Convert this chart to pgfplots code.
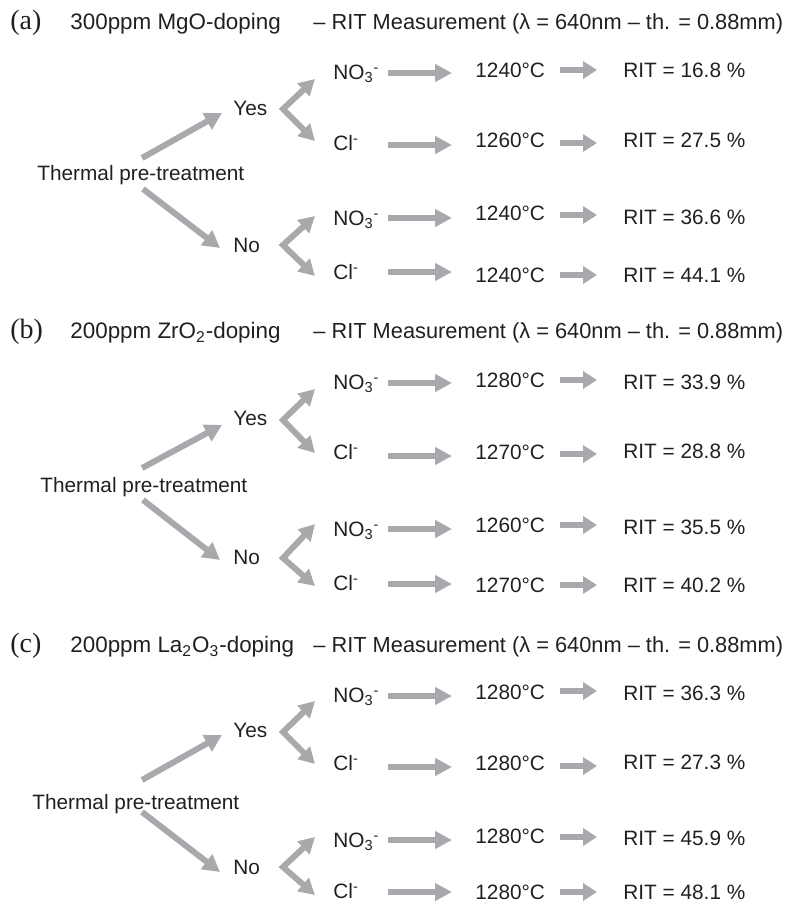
\documentclass[border=0pt]{standalone}
\usepackage{pgfplots}
\pgfplotsset{compat=1.18}
\usetikzlibrary{arrows.meta}
\usepackage{fontspec}
\setmainfont{Liberation Sans}
\newfontfamily\serifpanel{Liberation Serif}
\definecolor{tc}{HTML}{231F20}
\definecolor{ac}{HTML}{A7A9AC}
\newcommand{\NO}{NO\textsubscript{3}\textsuperscript{-}}
\newcommand{\Cl}{Cl\textsuperscript{-}}
\tikzset{
  txt/.style={anchor=base west, inner sep=0pt, text=tc, font=\fontsize{10.4}{12}\selectfont, yshift=-3.75pt},
  ttl/.style={anchor=base west, inner sep=0pt, text=tc, font=\fontsize{10.9}{13}\selectfont, yshift=-3.95pt},
  ttlb/.style={anchor=base west, inner sep=0pt, text=tc, font=\fontsize{11.2}{13}\selectfont, yshift=-3.95pt},
  pan/.style={anchor=base west, inner sep=0pt, text=tc, font=\serifpanel\fontsize{14}{16}\selectfont, yshift=-3.95pt},
  longa/.style={draw=ac, line width=3pt, -{Triangle[length=8.5pt,width=8.5pt]}},
  shorta/.style={draw=ac, line width=3pt, -{Triangle[length=7pt,width=8.5pt]}},
  diaga/.style={draw=ac, line width=3pt, -{Triangle[length=8.5pt,width=9pt]}},
  forka/.style={draw=ac, line width=3pt, line join=miter, {Triangle[length=8pt,width=8.5pt]}-{Triangle[length=8pt,width=8.5pt]}},
}
\begin{document}
\begin{tikzpicture}
\begin{axis}[scale only axis, width=398pt, height=452.5pt,
  xmin=0, xmax=796, ymin=0, ymax=905, y dir=reverse,
  hide axis, clip=false]
\path (rel axis cs:0,0) rectangle (rel axis cs:1,1);

% ---------------- panel (a) ----------------
\node[pan] at (axis cs:10,22) {(a)};
\node[ttlb] at (axis cs:70,22) {300ppm MgO-doping};
\node[ttl] at (axis cs:313,22) {– RIT Measurement (λ = 640nm – th. = 0.88mm)};
\node[txt] at (axis cs:37,173) {Thermal pre-treatment};
\node[txt] at (axis cs:233,108) {Yes};
\node[txt] at (axis cs:233,245) {No};
\node[txt] at (axis cs:333,72) {\NO};
\node[txt] at (axis cs:333,143) {\Cl};
\node[txt] at (axis cs:333,218) {\NO};
\node[txt] at (axis cs:333,272) {\Cl};
\node[txt] at (axis cs:475,70) {1240°C};
\node[txt] at (axis cs:475,140) {1260°C};
\node[txt] at (axis cs:475,213) {1240°C};
\node[txt] at (axis cs:475,275) {1240°C};
\node[txt] at (axis cs:623,70) {RIT = 16.8 \%};
\node[txt] at (axis cs:623,140) {RIT = 27.5 \%};
\node[txt] at (axis cs:623,217) {RIT = 36.6 \%};
\node[txt] at (axis cs:623,275) {RIT = 44.1 \%};
\addplot[diaga] coordinates {(142,158) (222,113)};
\addplot[diaga] coordinates {(143,189) (220,248)};
\addplot[forka] coordinates {(315,79) (283,109) (315,141)};
\addplot[forka] coordinates {(315,216) (283,245) (315,276)};
\addplot[longa] coordinates {(388,73) (452,73)};
\addplot[longa] coordinates {(388,145) (452,145)};
\addplot[longa] coordinates {(388,218) (452,218)};
\addplot[longa] coordinates {(388,272) (452,272)};
\addplot[shorta] coordinates {(560,70) (597,70)};
\addplot[shorta] coordinates {(560,143) (597,143)};
\addplot[shorta] coordinates {(560,215) (597,215)};
\addplot[shorta] coordinates {(560,275) (597,275)};

% ---------------- panel (b) ----------------
\node[pan] at (axis cs:10,331) {(b)};
\node[ttlb] at (axis cs:70,331) {200ppm ZrO\textsubscript{2}-doping};
\node[ttl] at (axis cs:313,331) {– RIT Measurement (λ = 640nm – th. = 0.88mm)};
\node[txt] at (axis cs:40,485) {Thermal pre-treatment};
\node[txt] at (axis cs:233,418) {Yes};
\node[txt] at (axis cs:233,557) {No};
\node[txt] at (axis cs:333,382) {\NO};
\node[txt] at (axis cs:333,452) {\Cl};
\node[txt] at (axis cs:333,529) {\NO};
\node[txt] at (axis cs:333,583) {\Cl};
\node[txt] at (axis cs:475,380) {1280°C};
\node[txt] at (axis cs:475,452) {1270°C};
\node[txt] at (axis cs:475,525) {1260°C};
\node[txt] at (axis cs:475,585) {1270°C};
\node[txt] at (axis cs:623,382) {RIT = 33.9 \%};
\node[txt] at (axis cs:623,451) {RIT = 28.8 \%};
\node[txt] at (axis cs:623,527) {RIT = 35.5 \%};
\node[txt] at (axis cs:623,585) {RIT = 40.2 \%};
\addplot[diaga] coordinates {(142,468) (222,425)};
\addplot[diaga] coordinates {(143,500) (220,560)};
\addplot[forka] coordinates {(315,389) (283,420) (315,453)};
\addplot[forka] coordinates {(315,524) (283,558) (315,586)};
\addplot[longa] coordinates {(388,383) (452,383)};
\addplot[longa] coordinates {(388,456) (452,456)};
\addplot[longa] coordinates {(388,529) (452,529)};
\addplot[longa] coordinates {(388,584) (452,584)};
\addplot[shorta] coordinates {(560,380) (597,380)};
\addplot[shorta] coordinates {(560,454) (597,454)};
\addplot[shorta] coordinates {(560,525) (597,525)};
\addplot[shorta] coordinates {(560,585) (597,585)};

% ---------------- panel (c) ----------------
\node[pan] at (axis cs:10,645) {(c)};
\node[ttlb] at (axis cs:70,645) {200ppm La\textsubscript{2}O\textsubscript{3}-doping};
\node[ttl] at (axis cs:313,645) {– RIT Measurement (λ = 640nm – th. = 0.88mm)};
\node[txt] at (axis cs:32,802) {Thermal pre-treatment};
\node[txt] at (axis cs:233,730) {Yes};
\node[txt] at (axis cs:233,867) {No};
\node[txt] at (axis cs:333,695) {\NO};
\node[txt] at (axis cs:333,763) {\Cl};
\node[txt] at (axis cs:333,840) {\NO};
\node[txt] at (axis cs:333,891) {\Cl};
\node[txt] at (axis cs:475,692) {1280°C};
\node[txt] at (axis cs:475,763) {1280°C};
\node[txt] at (axis cs:475,836) {1280°C};
\node[txt] at (axis cs:475,892) {1280°C};
\node[txt] at (axis cs:623,693) {RIT = 36.3 \%};
\node[txt] at (axis cs:623,762) {RIT = 27.3 \%};
\node[txt] at (axis cs:623,838) {RIT = 45.9 \%};
\node[txt] at (axis cs:623,892) {RIT = 48.1 \%};
\addplot[diaga] coordinates {(142,780) (222,735)};
\addplot[diaga] coordinates {(142,812) (220,872)};
\addplot[forka] coordinates {(315,701) (283,732) (315,764)};
\addplot[forka] coordinates {(315,837) (283,867) (315,895)};
\addplot[longa] coordinates {(388,696) (452,696)};
\addplot[longa] coordinates {(388,767) (452,767)};
\addplot[longa] coordinates {(388,840) (452,840)};
\addplot[longa] coordinates {(388,892) (452,892)};
\addplot[shorta] coordinates {(560,691) (597,691)};
\addplot[shorta] coordinates {(560,766) (597,766)};
\addplot[shorta] coordinates {(560,837) (597,837)};
\addplot[shorta] coordinates {(560,892) (597,892)};
\end{axis}
\end{tikzpicture}
\end{document}
